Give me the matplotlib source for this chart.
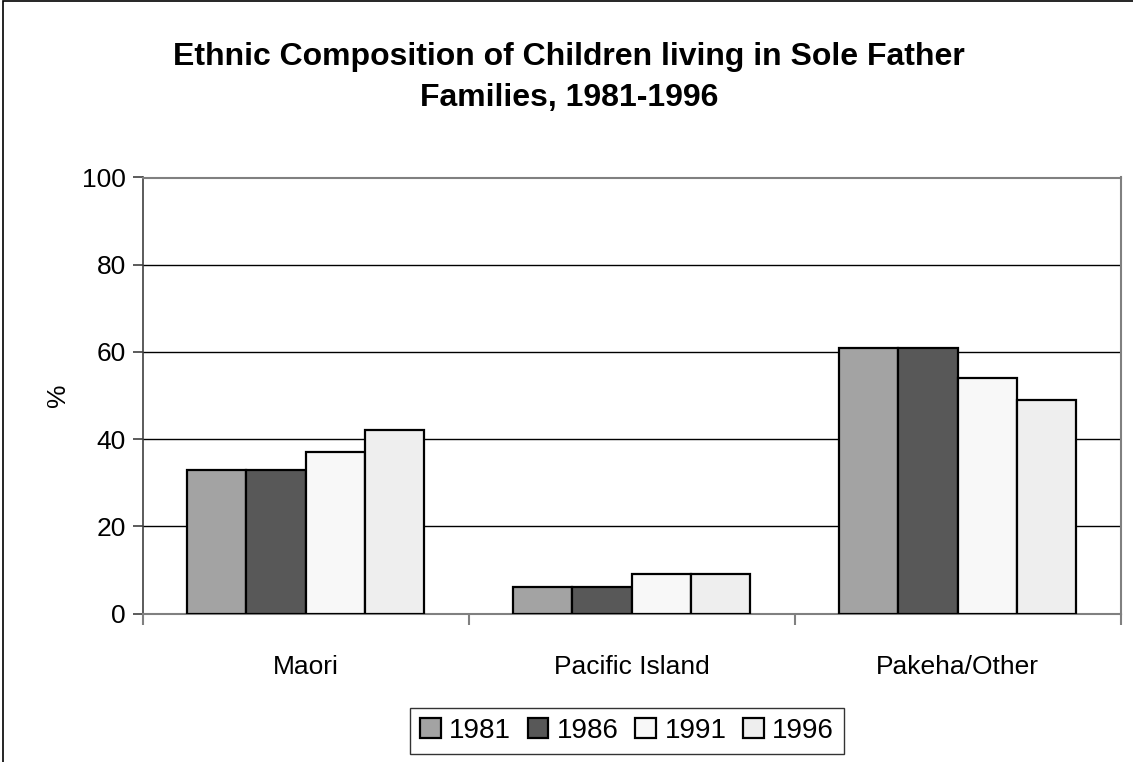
import numpy as np
import matplotlib
matplotlib.use("Agg")
import matplotlib.pyplot as plt
from matplotlib.patches import Rectangle

# percentages of children in sole father families, by ethnic group and census year
groups = ["Maori", "Pacific Island", "Pakeha/Other"]
years = ["1981", "1986", "1991", "1996"]
pct_1981 = [33, 6, 61]
pct_1986 = [33, 6, 61]
pct_1991 = [37, 9, 54]
pct_1996 = [42, 9, 49]

series = [pct_1981, pct_1986, pct_1991, pct_1996]
colors = ["#a3a3a3", "#585858", "#f8f8f8", "#eeeeee"]

plt.rcParams["font.family"] = ["Liberation Sans", "DejaVu Sans"]

fig = plt.figure(figsize=(11.33, 7.62), dpi=100, facecolor="white")
ax = fig.add_axes([142.7 / 1133, 1 - 613.5 / 762, 978 / 1133, 436 / 762])

x = np.arange(len(groups))
w = 0.182
for i, (vals, c, yr) in enumerate(zip(series, colors, years)):
    ax.bar(x + (i - 1.5) * w, vals, width=w, color=c, edgecolor="black",
           linewidth=1.6, label=yr, zorder=3)

ax.set_xlim(-0.5, 2.5)
ax.set_ylim(0, 100)
ax.set_yticks(np.arange(0, 101, 20))
ax.yaxis.grid(True, color="black", linewidth=1.0, zorder=0)
ax.set_axisbelow(True)

# category ticks sit on the group boundaries, labels centred below each group
ax.set_xticks([-0.5, 0.5, 1.5, 2.5])
ax.set_xticklabels([])
ax.set_xticks(x, minor=True)
ax.set_xticklabels(groups, minor=True, fontsize=19)
ax.tick_params(axis="x", which="major", direction="out", length=8, width=1.5, color="#808080")
ax.tick_params(axis="x", which="minor", length=0, pad=30)
ax.tick_params(axis="y", direction="out", length=7, width=1.2, color="#404040",
               labelsize=19, pad=5)

for side in ["top", "right", "bottom"]:
    ax.spines[side].set_color("#808080")
    ax.spines[side].set_linewidth(1.5)
ax.spines["left"].set_color("#404040")
ax.spines["left"].set_linewidth(1.2)

ax.set_ylabel("%", fontsize=19, labelpad=9)

fig.text(0.502, 1 - 57 / 762, "Ethnic Composition of Children living in Sole Father",
         ha="center", va="center", fontsize=23, fontweight="bold")
fig.text(0.502, 1 - 98 / 762, "Families, 1981-1996",
         ha="center", va="center", fontsize=23, fontweight="bold")

leg = fig.legend(loc="center", bbox_to_anchor=(627 / 1133, 1 - 731 / 762), ncol=4,
                 fontsize=20, frameon=True, fancybox=False, edgecolor="black",
                 handlelength=0.75, handleheight=0.75, handletextpad=0.3,
                 columnspacing=0.6, borderpad=0.35, borderaxespad=0)
leg.get_frame().set_linewidth(1.0)

# outer chart border
fig.patches.append(Rectangle((3 / 1133, -0.05), 1.1, 1.05 - 1 / 762, fill=False,
                             edgecolor="black", linewidth=1.2,
                             transform=fig.transFigure, figure=fig))

fig.savefig("out.png", dpi=100, facecolor="white")
